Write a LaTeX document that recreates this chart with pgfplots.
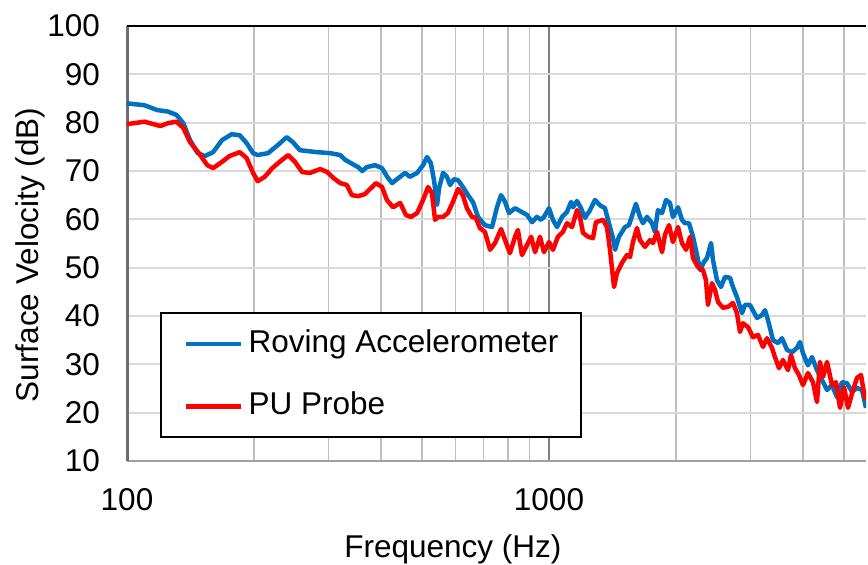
\documentclass[border=0pt]{standalone}
\usepackage{fontspec}
\setmainfont{Liberation Sans}
\usepackage{pgfplots}
\pgfplotsset{compat=1.18}
\definecolor{rovblue}{RGB}{0,112,192}
\definecolor{pured}{RGB}{255,0,0}
\definecolor{gridlight}{RGB}{217,217,217}
\definecolor{gridmid}{RGB}{191,191,191}
\definecolor{gridmajor}{RGB}{128,128,128}
\definecolor{axleft}{RGB}{110,110,110}
\definecolor{axbottom}{RGB}{160,160,160}
\newcommand{\chartfont}{\fontsize{31.5bp}{37bp}\selectfont}
\begin{document}
\begin{tikzpicture}
\begin{axis}[
  scale only axis, width=739bp, height=435bp,
  xmode=log, xmin=100, xmax=5640, ymin=10, ymax=100,
  enlargelimits=false,
  xtick={100,1000}, xticklabels={100,1000},
  minor xtick={200,300,400,500,600,700,800,900,2000,3000,4000,5000},
  ytick={10,20,30,40,50,60,70,80,90,100},
  major tick length=0pt, minor tick length=0pt,
  xmajorgrids=true, xminorgrids=true, ymajorgrids=true,
  major x grid style={gridmajor, line width=2bp},
  minor x grid style={gridmid, line width=1.5bp},
  major y grid style={gridlight, line width=2bp},
  axis x line*=bottom, axis y line*=left,
  x axis line style={axbottom, line width=2bp, -},
  y axis line style={axleft, line width=3bp, -},
  /pgf/number format/assume math mode=true,
  tick label style={font=\chartfont},
  yticklabel style={anchor=east, inner sep=0pt, xshift=-27bp},
  xticklabel style={anchor=north, inner sep=0pt, yshift=-27bp},
  label style={font=\chartfont},
  xlabel={Frequency (Hz)},
  xlabel style={at={(axis description cs:0.441,-0.2207)}, anchor=base},
  ylabel={Surface Velocity (dB)},
  ylabel style={at={(axis description cs:-0.1204,0.4736)}, anchor=base},
  legend cell align=left,
  legend image code/.code={\draw[#1, line width=4.5bp] (0bp,0bp) -- (55bp,0bp);},
  legend style={at={(axis description cs:0.0447,0.3425)}, anchor=north west,
    draw=black, line width=2bp, fill=white,
    inner xsep=23bp, inner ysep=16bp, row sep=33bp, column sep=5bp,
    nodes={inner sep=0pt, text height=23bp, text depth=6.6bp},
    font=\chartfont},
]
\addplot[rovblue, line width=4.5bp, line join=round] coordinates {
(100,84.0) (110,83.6) (118,82.6) (125,82.3) (131,81.6) (136,79.9) (141,76.4) (147,73.7) (153,73.1) (160,73.9) (168,76.4) (177,77.6) (185,77.4) (192,75.8) (199,73.7) (204,73.3) (216,73.7) (228,75.4) (239,77.0) (247,76.0) (257,74.3) (282,73.9) (303,73.7) (320,73.3) (329,72.3) (343,71.4) (353,70.8) (361,70.0) (370,70.8) (387,71.2) (402,70.6) (415,68.6) (425,67.5) (436,68.3) (456,69.6) (468,68.8) (487,69.6) (503,71.2) (514,72.9) (525,71.6) (534,68.1) (543,63.0) (549,66.5) (561,69.6) (573,68.8) (583,67.1) (595,68.3) (609,68.1) (625,66.7) (643,65.0) (661,63.5) (679,60.5) (705,58.8) (733,58.4) (753,62.5) (770,65.0) (787,63.6) (804,61.3) (831,62.3) (863,61.5) (887,60.9) (912,59.4) (936,60.5) (957,59.9) (973,60.5) (1000,62.3) (1022,59.9) (1045,58.4) (1074,60.5) (1103,61.5) (1128,63.6) (1140,62.5) (1165,63.8) (1191,62.3) (1217,60.3) (1251,61.9) (1285,64.0) (1321,62.9) (1357,62.3) (1387,59.2) (1418,56.1) (1434,53.7) (1465,56.4) (1514,58.4) (1547,58.8) (1581,61.3) (1607,63.2) (1643,60.5) (1670,59.2) (1707,60.5) (1754,59.2) (1783,57.4) (1812,61.9) (1853,61.3) (1894,64.0) (1935,63.4) (1967,60.5) (2022,62.5) (2066,59.9) (2100,59.2) (2147,59.2) (2194,56.4) (2243,52.6) (2280,49.5) (2330,51.2) (2368,52.0) (2421,55.1) (2447,51.6) (2501,47.4) (2556,46.0) (2613,48.1) (2685,47.9) (2729,46.0) (2789,43.9) (2867,40.6) (2914,42.3) (2994,42.3) (3111,39.6) (3197,40.2) (3250,41.2) (3303,39.2) (3395,35.0) (3489,34.4) (3566,35.4) (3665,33.0) (3766,32.5) (3870,33.4) (3934,34.6) (3999,32.3) (4109,29.8) (4200,31.5) (4316,28.8) (4435,26.8) (4559,24.7) (4685,25.7) (4814,23.2) (4948,26.3) (5085,26.1) (5225,24.3) (5370,25.1) (5518,24.7) (5640,21.0)
};
\addlegendentry{Roving Accelerometer}
\addplot[pured, line width=4.5bp, line join=round] coordinates {
(100,79.7) (110,80.2) (120,79.3) (125,79.9) (131,80.2) (136,78.9) (141,76.0) (148,73.7) (155,71.2) (160,70.6) (168,71.9) (175,73.1) (185,73.9) (192,72.7) (199,69.6) (204,67.9) (212,68.8) (221,70.6) (230,71.9) (241,73.3) (250,71.9) (260,69.8) (271,69.6) (287,70.4) (298,69.8) (308,68.6) (320,67.5) (332,67.1) (341,65.0) (353,64.8) (366,65.2) (381,66.7) (389,67.5) (402,66.7) (413,64.0) (427,62.5) (444,63.4) (458,60.9) (471,60.5) (487,61.3) (503,64.0) (517,66.7) (528,65.4) (537,59.9) (546,60.5) (561,60.5) (576,61.3) (592,63.6) (609,66.3) (625,65.0) (639,62.3) (657,60.5) (671,60.3) (686,58.2) (705,57.4) (725,53.7) (745,55.1) (770,58.0) (787,55.7) (808,53.0) (831,56.4) (844,57.8) (863,52.6) (887,54.7) (907,56.4) (927,53.2) (952,56.4) (973,53.2) (1000,55.3) (1022,53.7) (1050,56.4) (1079,57.4) (1103,59.2) (1134,58.4) (1165,61.9) (1184,60.5) (1204,57.2) (1237,56.4) (1271,56.1) (1292,59.4) (1343,59.9) (1372,58.4) (1395,53.7) (1426,46.0) (1449,48.9) (1489,51.0) (1530,52.6) (1556,52.2) (1581,55.3) (1616,58.2) (1643,55.7) (1688,54.3) (1735,55.7) (1764,55.1) (1803,57.4) (1853,53.2) (1883,56.8) (1925,58.8) (1967,55.3) (2022,58.4) (2066,55.1) (2112,53.7) (2159,56.4) (2194,52.0) (2255,50.1) (2317,49.5) (2355,47.4) (2381,42.3) (2434,46.8) (2474,45.4) (2515,42.9) (2584,41.7) (2656,41.9) (2729,42.7) (2789,40.6) (2835,36.7) (2882,38.5) (2962,37.7) (3044,35.6) (3128,36.1) (3215,33.6) (3285,35.4) (3376,33.4) (3432,31.5) (3508,29.2) (3585,30.9) (3685,28.8) (3745,31.9) (3828,29.2) (3912,27.8) (3999,25.7) (4109,28.2) (4223,26.3) (4316,22.2) (4387,30.5) (4460,27.4) (4559,30.5) (4685,25.7) (4788,26.3) (4894,21.0) (5002,25.3) (5112,21.0) (5254,24.7) (5370,27.2) (5488,27.8) (5579,24.0) (5640,22.6)
};
\addlegendentry{PU Probe}
\end{axis}
\draw[black, line width=2.5bp] (current axis.north west) -- (current axis.north east);
\pgfresetboundingbox
\path[use as bounding box] (-127bp,-104bp) rectangle (741bp,461bp);
\end{tikzpicture}
\end{document}
